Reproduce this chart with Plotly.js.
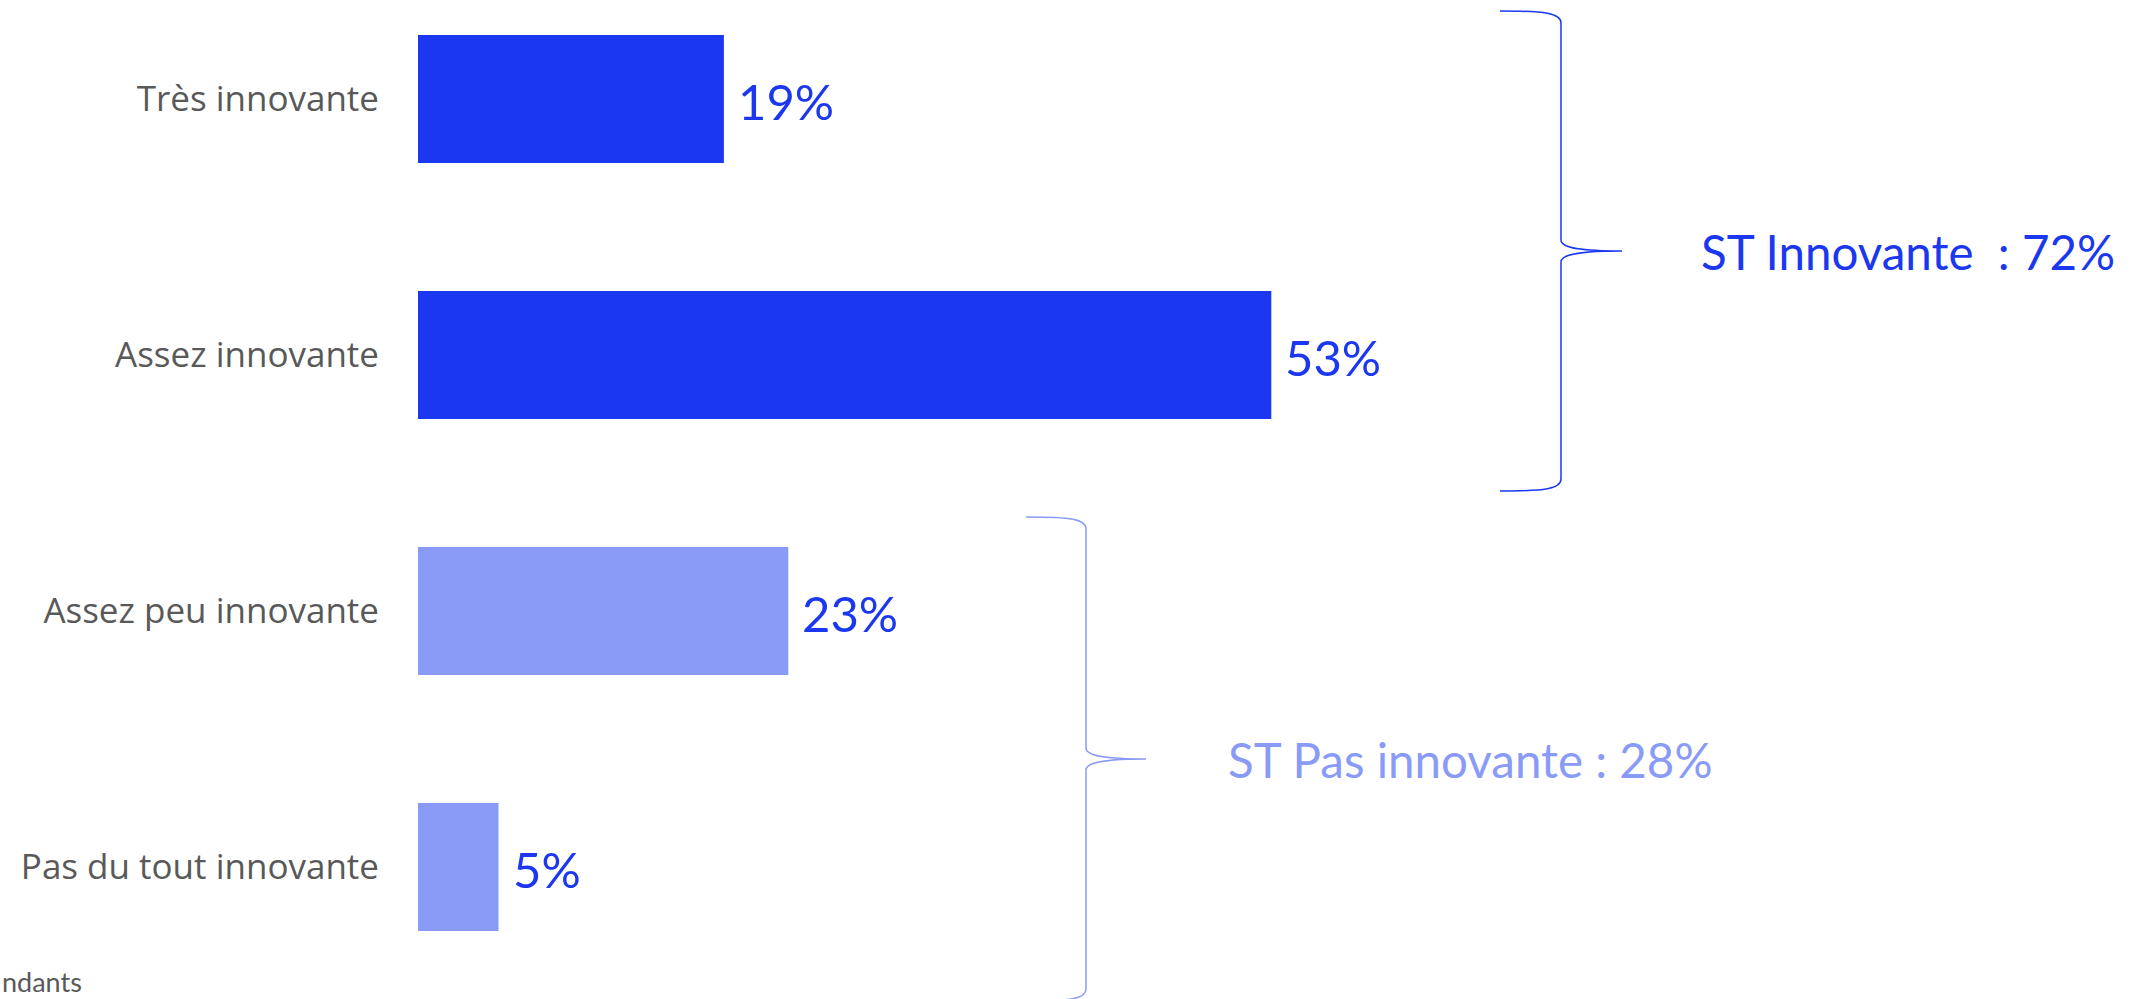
<!DOCTYPE html>
<html><head><meta charset="utf-8">
<script src="https://cdn.plot.ly/plotly-3.0.1.min.js"></script>
<style>html,body{margin:0;padding:0;background:#fff;overflow:hidden;}#chart{width:2146px;height:999px;}</style>
</head><body><div id="chart"></div>
<script>
// ---- data ----
const categories = ['Très innovante', 'Assez innovante', 'Assez peu innovante', 'Pas du tout innovante'];
const values = [19, 53, 23, 5];
const valueLabels = ['19%', '53%', '23%', '5%'];
const groupLabels = ['ST Innovante  : 72%', 'ST Pas innovante : 28%'];
const footnote = 'ndants';

// ---- styles ----
const DARK = '#1B38F0', LIGHT = '#8A9BF7', GREY = '#595959';
const barColors = [DARK, DARK, LIGHT, LIGHT];

const W = 2146, H = 999, L = 418, R = 118;
const plotW = W - L - R;
const px = x => (x - L) / plotW;
const py = y => 1 - y / H;
const P = (x, y) => px(x).toFixed(5) + ',' + py(y).toFixed(5);

function brace(x0, xv, xt, yt, ym, yb) {
  return 'M' + P(x0, yt) +
    ' C' + P(x0 + 45, yt) + ' ' + P(xv, yt + 2) + ' ' + P(xv, yt + 12) +
    ' L' + P(xv, ym - 11) +
    ' C' + P(xv, ym - 2) + ' ' + P(xv + 25, ym) + ' ' + P(xt, ym) +
    ' C' + P(xv + 25, ym) + ' ' + P(xv, ym + 2) + ' ' + P(xv, ym + 11) +
    ' L' + P(xv, yb - 12) +
    ' C' + P(xv, yb - 2) + ' ' + P(x0 + 45, yb) + ' ' + P(x0, yb);
}

const trace = {
  type: 'bar',
  orientation: 'h',
  y: categories,
  x: values,
  marker: { color: barColors, line: { width: 0 } },
  hoverinfo: 'skip'
};

const annotations = categories.map((c, i) => ({
  x: values[i], y: c, xref: 'x', yref: 'y',
  text: valueLabels[i], showarrow: false,
  xanchor: 'left', yanchor: 'middle', xshift: 12, yshift: -2,
  font: { family: 'Lato', size: 49, color: DARK }
}));

annotations.push({
  x: px(1699), y: py(252), xref: 'paper', yref: 'paper',
  text: groupLabels[0], showarrow: false, xanchor: 'left', yanchor: 'middle',
  font: { family: 'Lato', size: 47.5, color: DARK }
});
annotations.push({
  x: px(1226), y: py(759), xref: 'paper', yref: 'paper',
  text: groupLabels[1], showarrow: false, xanchor: 'left', yanchor: 'middle',
  font: { family: 'Lato', size: 47.5, color: LIGHT }
});
annotations.push({
  x: px(1), y: py(981), xref: 'paper', yref: 'paper',
  text: footnote, showarrow: false, xanchor: 'left', yanchor: 'middle', borderpad: 0,
  font: { family: 'Lato', size: 27, color: GREY }
});

const shapes = [
  { type: 'path', xref: 'paper', yref: 'paper', path: brace(1500, 1561, 1622, 11, 251, 491),
    line: { color: DARK, width: 1.5 } },
  { type: 'path', xref: 'paper', yref: 'paper', path: brace(1026, 1086, 1146, 517, 759, 1001),
    line: { color: LIGHT, width: 1.5 } }
];

const layout = {
  width: W, height: H,
  margin: { l: L, r: R, t: 0, b: 0, pad: 0 },
  paper_bgcolor: '#ffffff', plot_bgcolor: '#ffffff',
  showlegend: false,
  bargap: 0.5,
  xaxis: { range: [0, 100], visible: false, fixedrange: true },
  yaxis: {
    type: 'category', categoryorder: 'array', categoryarray: categories,
    range: [3.516, -0.387], showgrid: false, zeroline: false, showline: false,
    ticks: '', ticklabelstandoff: 38, automargin: false, fixedrange: true,
    tickfont: { family: 'Open Sans', size: 35, color: GREY }
  },
  annotations: annotations,
  shapes: shapes,
  hovermode: false
};

Plotly.newPlot('chart', [trace], layout, { displayModeBar: false, staticPlot: true });
</script>
</body></html>
